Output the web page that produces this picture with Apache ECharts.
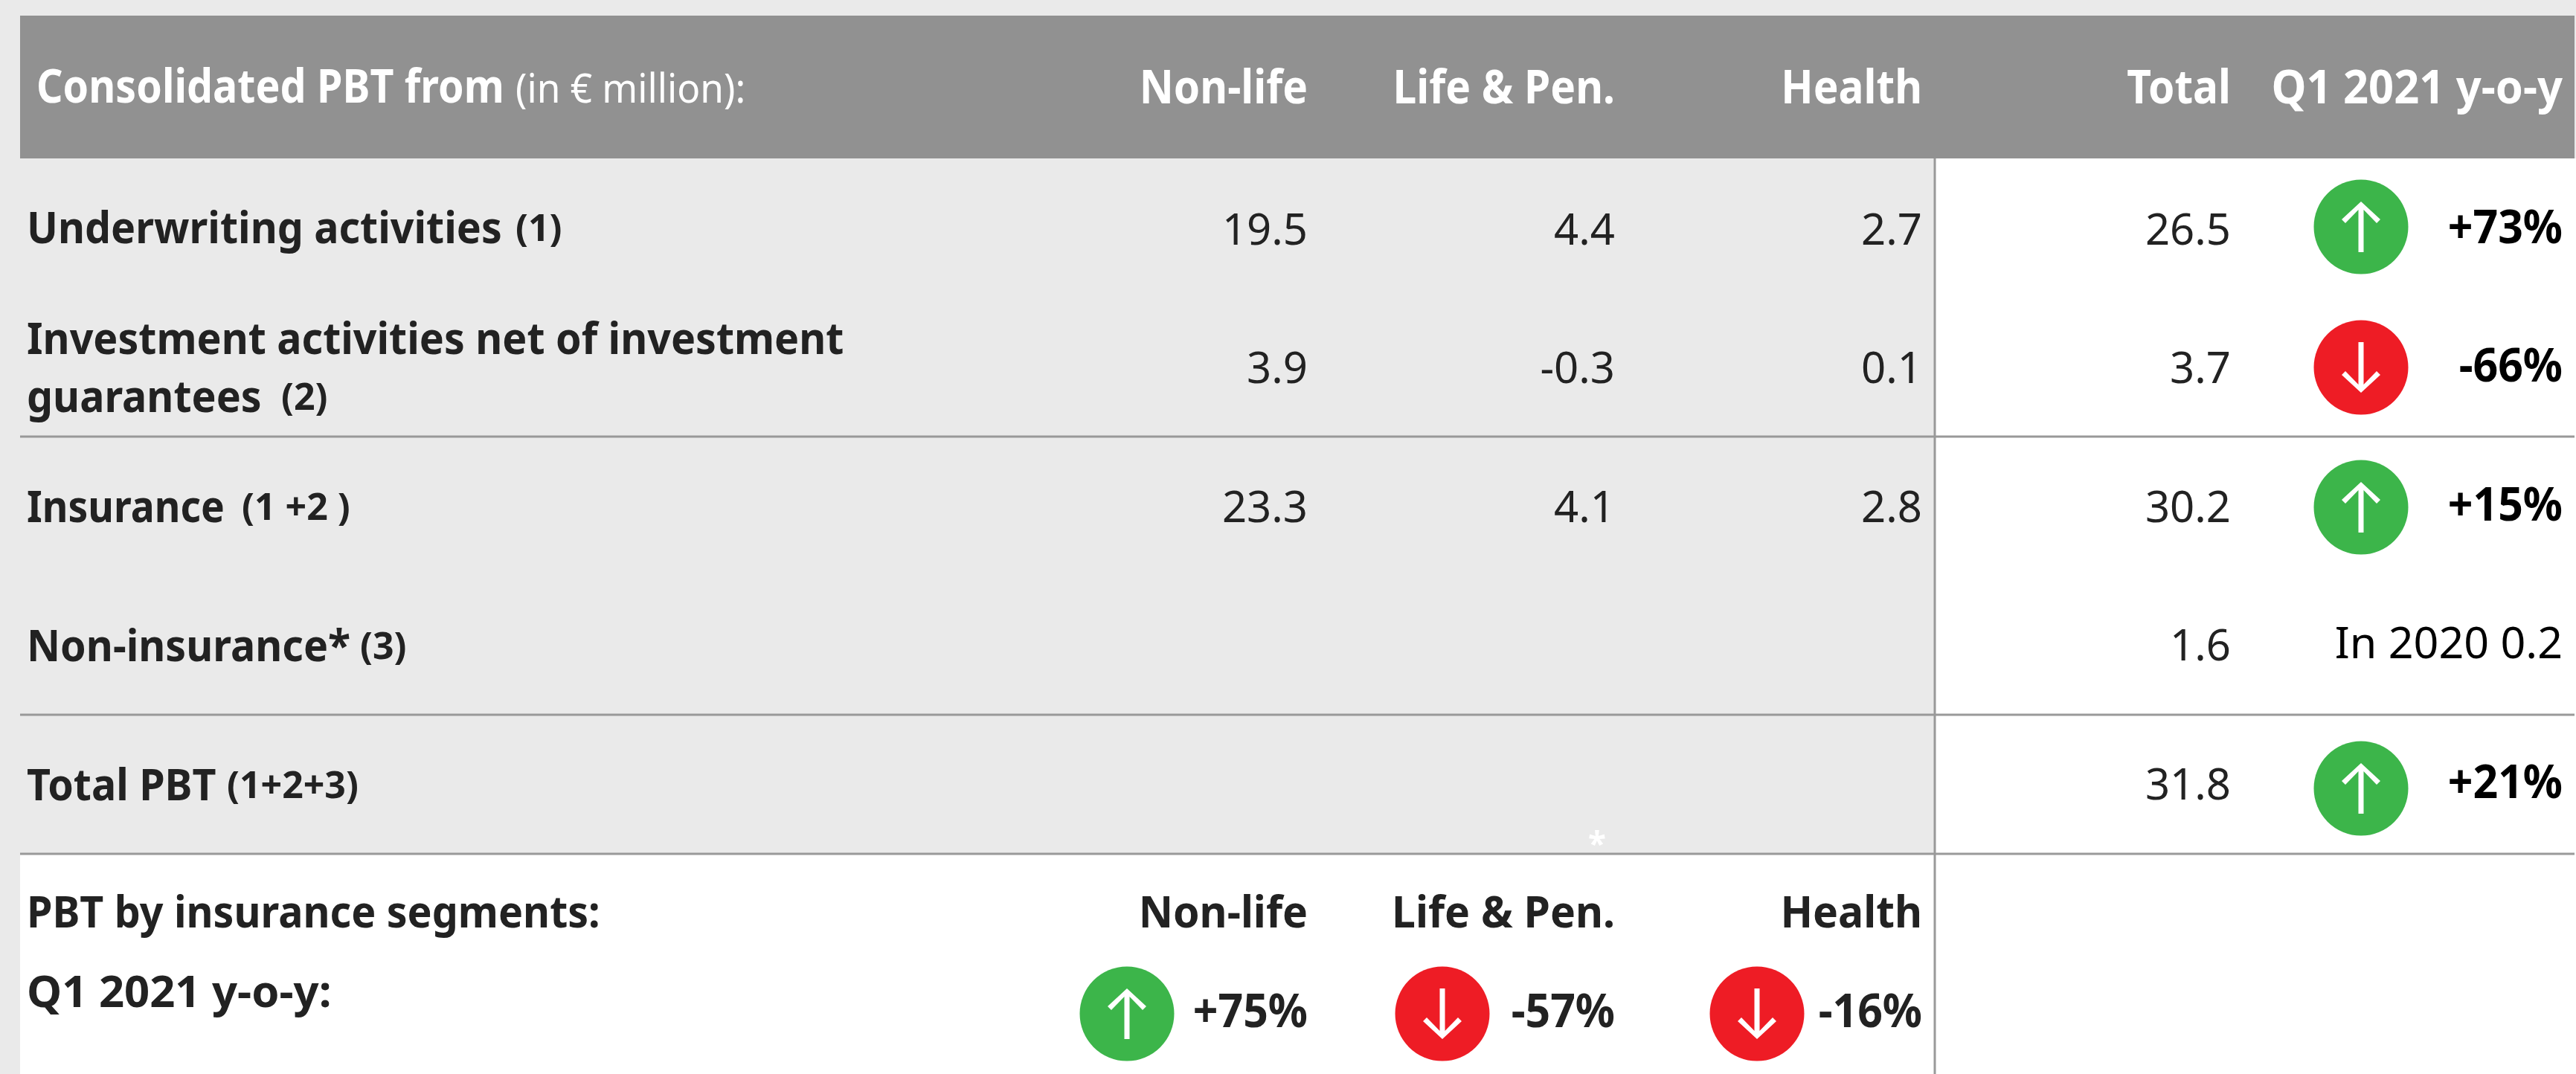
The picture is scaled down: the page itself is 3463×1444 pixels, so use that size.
<!DOCTYPE html>
<html>
<head>
<meta charset="utf-8">
<title>Consolidated PBT</title>
<script src="https://cdn.jsdelivr.net/npm/echarts@6/dist/echarts.min.js"></script>
<style>
html, body { margin: 0; padding: 0; background: #eaeaea; }
#container { width: 3463px; height: 1444px; }
</style>
</head>
<body>
<div id="container"></div>
<script>
var columns = ['Non-life', 'Life & Pen.', 'Health', 'Total', 'Q1 2021 y-o-y'];
var rowLabels = ['Underwriting activities', 'Investment activities net of investment', 'Insurance', 'Non-insurance*', 'Total PBT'];
var rowRefs = ['(1)', '', '(1 +2 )', '(3)', '(1+2+3)'];
var nonLife = ['19.5', '3.9', '23.3', '', ''];
var lifePen = ['4.4', '-0.3', '4.1', '', ''];
var health = ['2.7', '0.1', '2.8', '', ''];
var total = ['26.5', '3.7', '30.2', '1.6', '31.8'];
var yoy = [73, -66, 15, null, 21];
var segmentYoy = [75, -57, -16];

// layout, in page pixels
var W = 3463, H = 1444;
var rowY = [312, 498, 685, 871, 1058];
var colRight = [1758, 2171, 2584, 2999, 3445];
var badgeX = 3174;
var segBadgeX = [1515, 1939, 2362];
var segBadgeY = 1363;

var styles = {
    title: { size: 62, weight: 'bold', color: '#fff', sx: 0.895 },
    head: { size: 62, weight: 'bold', color: '#fff', sx: 0.915 },
    headWide: { size: 62, weight: 'bold', color: '#fff', sx: 0.96 },
    headLight: { size: 54, weight: 'normal', color: '#fff', sx: 0.95 },
    label: { size: 60, weight: 'bold', color: '#222', sx: 0.925 },
    labelNarrow: { size: 60, weight: 'bold', color: '#222', sx: 0.89 },
    labelWide: { size: 60, weight: 'bold', color: '#222', sx: 0.995 },
    segHead: { size: 60, weight: 'bold', color: '#222', sx: 0.95 },
    ref: { size: 50, weight: 'bold', color: '#222', sx: 1 },
    num: { size: 58, weight: 'normal', color: '#222', sx: 1 },
    pct: { size: 62, weight: 'bold', color: '#000', sx: 0.95 },
    segPct: { size: 62, weight: 'bold', color: '#222', sx: 0.95 },
    note: { size: 58, weight: 'normal', color: '#000', sx: 1.02 },
    star: { size: 44, weight: 'bold', color: '#fff', sx: 1 }
};

function pct(v) {
    return (v > 0 ? '+' : '') + v + '%';
}

var texts = [];
function addText(text, x, y, align, cls) {
    texts.push({ value: [x, y], text: text, align: align, cls: cls });
}

addText('Consolidated PBT from', 49, 120, 'left', 'title');
addText('(in € million):', 693, 123, 'left', 'headLight');
columns.forEach(function(c, i) {
    addText(c, colRight[i], 121, 'right', i === 4 ? 'headWide' : 'head');
});

var labelY = [310, 459, 685, 872, 1059];
var refX = [693, 0, 325, 484, 305];
rowLabels.forEach(function(l, i) {
    addText(l, 36, labelY[i], 'left', i === 2 ? 'labelNarrow' : 'label');
    if (rowRefs[i]) {
        addText(rowRefs[i], refX[i], labelY[i], 'left', 'ref');
    }
});
addText('guarantees', 36, 537, 'left', 'label');
addText('(2)', 378, 537, 'left', 'ref');

[nonLife, lifePen, health, total].forEach(function(col, c) {
    col.forEach(function(v, r) {
        if (v !== '') {
            addText(v, colRight[c], rowY[r], 'right', 'num');
        }
    });
});
yoy.forEach(function(v, r) {
    if (v !== null) {
        addText(pct(v), colRight[4], rowY[r] - 3, 'right', 'pct');
    }
});
addText('In 2020 0.2', colRight[4], rowY[3] - 3, 'right', 'note');

addText('PBT by insurance segments:', 36, 1230, 'left', 'label');
addText('Q1 2021 y-o-y:', 36, 1337, 'left', 'labelWide');
columns.slice(0, 3).forEach(function(c, i) {
    addText(c, colRight[i], 1230, 'right', 'segHead');
    addText(pct(segmentYoy[i]), colRight[i], segBadgeY, 'right', 'segPct');
});
addText('*', 2147, 1137, 'center', 'star');

// badges
var badges = [];
var badgeY = [305, 494, 682, 868, 1060];
yoy.forEach(function(v, r) {
    if (v !== null) {
        badges.push({ value: [badgeX, badgeY[r]], up: v > 0 });
    }
});
segmentYoy.forEach(function(v, i) {
    badges.push({ value: [segBadgeX[i], segBadgeY], up: v > 0 });
});

var upArrow = 'path://M26 0L52 24L47 29L29.5 11V68H22.5V11L5 29L0 24Z';
var downArrow = 'path://M26 68L52 44L47 39L29.5 57V0H22.5V57L5 39L0 44Z';

var rule = { stroke: '#999999', lineWidth: 3 };

var myChart = echarts.init(document.getElementById('container'));
myChart.setOption({
    backgroundColor: '#eaeaea',
    animation: false,
    grid: { left: 0, right: 0, top: 0, bottom: 0 },
    xAxis: { type: 'value', min: 0, max: W, show: false },
    yAxis: { type: 'value', min: 0, max: H, inverse: true, show: false },
    graphic: [
        { type: 'rect', z: 0, shape: { x: 27, y: 21, width: 3434, height: 192 }, style: { fill: '#919191' } },
        { type: 'rect', z: 0, shape: { x: 2601, y: 213, width: 862, height: 936 }, style: { fill: '#fff' } },
        { type: 'rect', z: 0, shape: { x: 27, y: 1148, width: 3436, height: 296 }, style: { fill: '#fff' } },
        { type: 'line', z: 1, shape: { x1: 27, y1: 587, x2: 3461, y2: 587 }, style: rule },
        { type: 'line', z: 1, shape: { x1: 27, y1: 961, x2: 3461, y2: 961 }, style: rule },
        { type: 'line', z: 1, shape: { x1: 27, y1: 1148, x2: 3461, y2: 1148 }, style: rule },
        { type: 'line', z: 1, shape: { x1: 2601, y1: 213, x2: 2601, y2: 1444 }, style: rule }
    ],
    series: [{
        type: 'scatter',
        silent: true,
        symbol: 'circle',
        symbolSize: 127,
        z: 3,
        itemStyle: {
            opacity: 1,
            color: function(p) {
                return p.data.up ? '#3cb54a' : '#ee1c25';
            }
        },
        data: badges
    }, {
        type: 'scatter',
        silent: true,
        symbol: function(val, p) {
            return p.data.up ? upArrow : downArrow;
        },
        symbolSize: [52, 68],
        z: 4,
        itemStyle: { color: '#fff', opacity: 1 },
        data: badges
    }, {
        type: 'custom',
        silent: true,
        z: 5,
        data: texts,
        renderItem: function(params, api) {
            var t = texts[params.dataIndex];
            var s = styles[t.cls];
            var pos = api.coord([api.value(0), api.value(1)]);
            return {
                type: 'text',
                x: pos[0],
                y: pos[1],
                scaleX: s.sx,
                style: {
                    text: t.text,
                    x: 0,
                    y: 0,
                    align: t.align,
                    verticalAlign: 'middle',
                    fontFamily: 'Noto Sans',
                    fontSize: s.size,
                    fontWeight: s.weight,
                    fill: s.color
                }
            };
        }
    }]
});
</script>
</body>
</html>
